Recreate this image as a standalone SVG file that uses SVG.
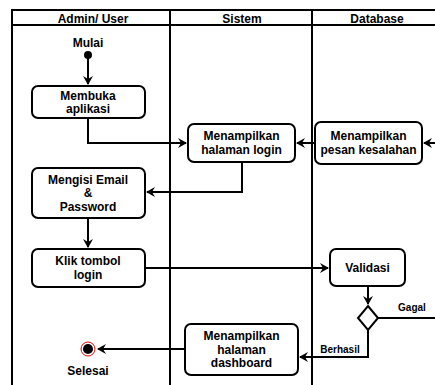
<svg xmlns="http://www.w3.org/2000/svg" width="435" height="385" viewBox="0 0 435 385">
<style>
text{font-family:"Liberation Sans",Arial,sans-serif;font-weight:bold;font-size:12px;fill:#000;text-anchor:middle}
.lbl{font-size:10px}
.lane{fill:none;stroke:#000;stroke-width:2}
.box{fill:#fff;stroke:#000;stroke-width:2}
.edge{fill:none;stroke:#000;stroke-width:2}
</style>
<defs>
<marker id="arr" markerWidth="10" markerHeight="10" refX="8" refY="5" orient="auto" markerUnits="userSpaceOnUse">
<path d="M0,0 L9,5 L0,10 L3,5 Z" fill="#000"/>
</marker>
</defs>
<rect width="435" height="385" fill="#fff"/>
<g id="lanes">
<path class="lane" d="M12,385 V10 H440 M12,25 H440 M170,10 V385 M312,10 V385"/>
<text x="93" y="22.5">Admin/ User</text>
<text x="242" y="22.5">Sistem</text>
<text x="377" y="22.5">Database</text>
</g>
<g id="connectors">
<path class="edge" d="M88,55 V84" marker-end="url(#arr)"/>
<path class="edge" d="M88,118 V143 H186" marker-end="url(#arr)"/>
<path class="edge" d="M315,143 H297" marker-end="url(#arr)"/>
<path class="edge" d="M435,143 H424" marker-end="url(#arr)"/>
<path class="edge" d="M242,162 V192 H147" marker-end="url(#arr)"/>
<path class="edge" d="M88,218 V247" marker-end="url(#arr)"/>
<path class="edge" d="M145,268 H328" marker-end="url(#arr)"/>
<path class="edge" d="M368,286 V304" marker-end="url(#arr)"/>
<path class="edge" d="M378,318 H435"/>
<path class="edge" d="M368,330 V357 H300" marker-end="url(#arr)"/>
<path class="edge" d="M185,349 H98" marker-end="url(#arr)"/>
<text class="lbl" x="412" y="311">Gagal</text>
<text class="lbl" x="340" y="353">Berhasil</text>
</g>
<g id="start">
<text x="88" y="47">Mulai</text>
<circle cx="88" cy="55" r="4" fill="#000"/>
</g>
<g id="membuka">
<rect class="box" x="32" y="86" width="113" height="32" rx="6"/>
<text x="88" y="99.5">Membuka</text>
<text x="88" y="113">aplikasi</text>
</g>
<g id="login">
<rect class="box" x="188" y="124" width="107" height="38" rx="6"/>
<text x="241.5" y="140">Menampilkan</text>
<text x="241.5" y="153.5">halaman login</text>
</g>
<g id="kesalahan">
<rect class="box" x="315" y="122" width="107" height="42" rx="6"/>
<text x="368.5" y="140">Menampilkan</text>
<text x="368.5" y="153.5">pesan kesalahan</text>
</g>
<g id="mengisi">
<rect class="box" x="32" y="168" width="113" height="50" rx="6"/>
<text x="88" y="183.5">Mengisi Email</text>
<text x="88" y="197">&amp;</text>
<text x="88" y="210.5">Password</text>
</g>
<g id="klik">
<rect class="box" x="32" y="249" width="113" height="38" rx="6"/>
<text x="88" y="265">Klik tombol</text>
<text x="88" y="278.5">login</text>
</g>
<g id="validasi">
<rect class="box" x="330" y="249" width="75" height="37" rx="6"/>
<text x="367.5" y="272">Validasi</text>
</g>
<g id="decision">
<path class="box" d="M368,306 L378,318 L368,330 L358,318 Z"/>
</g>
<g id="dashboard">
<rect class="box" x="185" y="324" width="113" height="51" rx="6"/>
<text x="241.5" y="340">Menampilkan</text>
<text x="241.5" y="353.5">halaman</text>
<text x="241.5" y="367">dashboard</text>
</g>
<g id="end">
<circle cx="88" cy="349" r="7" fill="#fff" stroke="#e00" stroke-width="1"/>
<circle cx="88" cy="349" r="5" fill="#000"/>
<text x="88" y="375">Selesai</text>
</g>
</svg>
